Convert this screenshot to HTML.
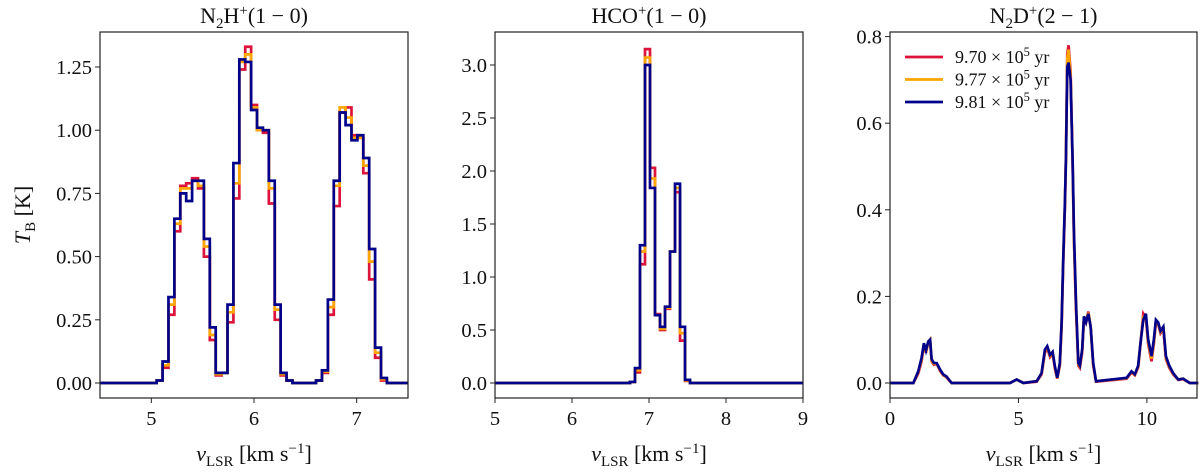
<!DOCTYPE html>
<html><head><meta charset="utf-8"><style>
html,body{margin:0;padding:0;background:#fff}
svg{display:block;font-family:"Liberation Serif",serif}
</style></head><body>
<svg id="fig" width="1200" height="473" viewBox="0 0 1200 473" xmlns="http://www.w3.org/2000/svg"></svg>
<script>
// Panel 1: N2H+ (1-0) channel values, channels start at v0 with width dv
const p1Start = 5.052, p1Width = 0.0575;
const p1Red = [0.01,0.06,0.27,0.60,0.78,0.79,0.81,0.77,0.50,0.17,0.03,0.04,0.24,0.73,1.24,1.33,1.10,1.00,0.99,0.71,0.25,0.03,0.01,0,0,0,0,0.01,0.04,0.27,0.70,1.07,1.09,0.98,0.97,0.83,0.41,0.10,0.01];
const p1Orange = [0.01,0.07,0.31,0.63,0.77,0.77,0.80,0.78,0.54,0.19,0.035,0.04,0.28,0.79,1.27,1.30,1.09,1.00,1.00,0.77,0.29,0.035,0.01,0,0,0,0,0.01,0.045,0.30,0.78,1.09,1.05,0.97,0.97,0.86,0.48,0.12,0.015];
const p1Blue = [0.01,0.085,0.34,0.65,0.75,0.72,0.80,0.80,0.57,0.22,0.04,0.04,0.31,0.87,1.28,1.27,1.08,1.01,1.00,0.80,0.31,0.04,0.01,0,0,0,0,0.01,0.05,0.33,0.80,1.07,1.02,0.96,0.98,0.89,0.53,0.14,0.02];
// Panel 2: HCO+ (1-0)
const p2Start = 6.753, p2Width = 0.065;
const p2Red = [0.01,0.10,1.12,3.15,2.03,0.65,0.50,0.70,1.24,1.80,0.40,0.02];
const p2Orange = [0.01,0.12,1.24,3.07,1.93,0.64,0.51,0.71,1.24,1.84,0.47,0.025];
const p2Blue = [0.01,0.14,1.30,3.00,1.84,0.64,0.53,0.72,1.24,1.88,0.53,0.03];
// Panel 3: N2D+ (2-1) velocity samples and values
const p3Vel = [0,0.91,1.10,1.23,1.32,1.40,1.49,1.56,1.62,1.71,1.82,1.95,2.07,2.20,2.33,2.40,4.67,4.93,5.19,5.71,5.90,6.03,6.12,6.23,6.33,6.42,6.51,6.61,6.68,6.74,6.81,6.85,6.90,6.95,7.03,7.11,7.16,7.24,7.33,7.39,7.48,7.55,7.63,7.72,7.81,7.91,8.02,9.21,9.40,9.53,9.66,9.75,9.86,9.96,10.05,10.18,10.27,10.35,10.44,10.53,10.64,10.74,10.87,11.02,11.22,11.41,11.54,11.67,12];
const p3Blue = [0,0,0.027,0.058,0.092,0.075,0.096,0.10,0.055,0.046,0.046,0.031,0.02,0.015,0.005,0,0,0.008,0,0.004,0.023,0.077,0.085,0.065,0.072,0.038,0.012,0.046,0.14,0.28,0.42,0.52,0.73,0.74,0.70,0.51,0.35,0.185,0.046,0.04,0.077,0.154,0.14,0.16,0.13,0.046,0.004,0.012,0.027,0.02,0.04,0.092,0.146,0.16,0.10,0.062,0.10,0.146,0.14,0.12,0.13,0.062,0.04,0.023,0.008,0.01,0.005,0,0];
const p3Red = [0,0,0.022,0.05,0.09,0.07,0.094,0.10,0.05,0.042,0.044,0.028,0.018,0.013,0.004,0,0,0.008,0,0.003,0.02,0.07,0.08,0.06,0.068,0.033,0.01,0.04,0.13,0.27,0.41,0.53,0.76,0.78,0.72,0.50,0.33,0.17,0.04,0.035,0.07,0.15,0.14,0.165,0.13,0.04,0.003,0.01,0.024,0.018,0.036,0.09,0.16,0.15,0.09,0.05,0.09,0.14,0.135,0.115,0.125,0.055,0.035,0.02,0.007,0.009,0.004,0,0];
const p3Orange = [0,0,0.025,0.054,0.091,0.072,0.095,0.10,0.052,0.044,0.045,0.03,0.019,0.014,0.005,0,0,0.008,0,0.004,0.022,0.074,0.083,0.063,0.07,0.036,0.011,0.043,0.135,0.275,0.415,0.525,0.75,0.77,0.71,0.505,0.34,0.18,0.043,0.038,0.074,0.152,0.14,0.162,0.13,0.043,0.004,0.011,0.026,0.019,0.038,0.091,0.153,0.155,0.095,0.056,0.095,0.143,0.138,0.118,0.128,0.058,0.038,0.022,0.008,0.01,0.005,0,0];
const p1YTicks = ["0.00","0.25","0.50","0.75","1.00","1.25"];
const p2YTicks = ["0.0","0.5","1.0","1.5","2.0","2.5","3.0"];
const p3YTicks = ["0.0","0.2","0.4","0.6","0.8"];
const p1XTicks = ["5","6","7"];
const p2XTicks = ["5","6","7","8","9"];
const p3XTicks = ["0","5","10"];
const legendLabels = ["9.70","9.77","9.81"];

const NS="http://www.w3.org/2000/svg";
const svg=document.getElementById('fig');
const COLORS=["#dc143c","#ffa500","#00008b"];
function mk(tag,attrs,parent){const e=document.createElementNS(NS,tag);for(const k in attrs)e.setAttribute(k,attrs[k]);(parent||svg).appendChild(e);return e;}

function panel(cfg){
  const g=mk('g',{});
  
  
  const sx=v=>cfg.L+(v-cfg.xmin)/(cfg.xmax-cfg.xmin)*(cfg.R-cfg.L);
  const sy=v=>cfg.y0-v*cfg.pxPerUnit;
  cfg.series.forEach((s,i)=>{
    let d='';
    if(s.step){
      d='M'+cfg.L+','+sy(0);
      d+=' L'+sx(s.start)+','+sy(0);
      s.vals.forEach((v,k)=>{const a=sx(s.start+k*s.width),b=sx(s.start+(k+1)*s.width);d+=' L'+a+','+sy(v)+' L'+b+','+sy(v);});
      d+=' L'+sx(s.start+s.vals.length*s.width)+','+sy(0)+' L'+cfg.R+','+sy(0);
    } else {
      s.vel.forEach((v,k)=>{d+=(k?' L':'M')+sx(v)+','+sy(s.vals[k]);});
    }
    const p=mk('path',{d:d,fill:'none',stroke:COLORS[i],'stroke-width':2.7,'stroke-linejoin':'miter'},g);
    
    
  });
  const fr=mk('rect',{x:cfg.L,y:cfg.T,width:cfg.R-cfg.L,height:cfg.B-cfg.T,fill:'none',stroke:'#222','stroke-width':1.2},g);
  
  
  cfg.yTicks.forEach(t=>{
    const y=sy(parseFloat(t));
    mk('line',{x1:cfg.L-5,x2:cfg.L,y1:y,y2:y,stroke:'#222','stroke-width':1},g);
    const tx=mk('text',{x:cfg.L-8,y:y+7,'text-anchor':'end','font-size':20.5,fill:'#111'},g);
    tx.textContent=t;
    
    
  });
  cfg.xTicks.forEach(t=>{
    const x=sx(parseFloat(t));
    mk('line',{x1:x,x2:x,y1:cfg.B,y2:cfg.B+5,stroke:'#222','stroke-width':1},g);
    const tx=mk('text',{x:x,y:cfg.B+27,'text-anchor':'middle','font-size':20.5,fill:'#111'},g);
    tx.textContent=t;
    
    
  });
  const xl=mk('text',{x:(cfg.L+cfg.R)/2,y:461,'text-anchor':'middle','font-size':22,fill:'#111'},g);
  xl.innerHTML='<tspan font-style="italic">v</tspan><tspan font-size="15" dy="5">LSR</tspan><tspan dy="-5"> [km s</tspan><tspan font-size="15" dy="-8">−1</tspan><tspan dy="8">]</tspan>';
  
  
  const tt=mk('text',{x:(cfg.L+cfg.R)/2,y:23,'text-anchor':'middle','font-size':22,fill:'#111'},g);
  tt.innerHTML=cfg.title;
  
  
  return g;
}

panel({name:'n2hp-panel',L:100,R:408,T:32,B:398,xmin:4.5,xmax:7.5,y0:383,pxPerUnit:252.8,
  yTicks:p1YTicks,xTicks:p1XTicks,
  title:'N<tspan font-size="15" dy="5">2</tspan><tspan dy="-5">H</tspan><tspan font-size="15" dy="-8">+</tspan><tspan dy="8">(1 − 0)</tspan>',
  series:[{step:1,start:p1Start,width:p1Width,vals:p1Red},{step:1,start:p1Start,width:p1Width,vals:p1Orange},{step:1,start:p1Start,width:p1Width,vals:p1Blue}]});
panel({name:'hcop-panel',L:495,R:803,T:32,B:398,xmin:5,xmax:9,y0:383,pxPerUnit:106,
  yTicks:p2YTicks,xTicks:p2XTicks,
  title:'HCO<tspan font-size="15" dy="-8">+</tspan><tspan dy="8">(1 − 0)</tspan>',
  series:[{step:1,start:p2Start,width:p2Width,vals:p2Red},{step:1,start:p2Start,width:p2Width,vals:p2Orange},{step:1,start:p2Start,width:p2Width,vals:p2Blue}]});
panel({name:'n2dp-panel',L:890,R:1197,T:32,B:398,xmin:0,xmax:11.95,y0:383,pxPerUnit:433,
  yTicks:p3YTicks,xTicks:p3XTicks,
  title:'N<tspan font-size="15" dy="5">2</tspan><tspan dy="-5">D</tspan><tspan font-size="15" dy="-8">+</tspan><tspan dy="8">(2 − 1)</tspan>',
  series:[{vel:p3Vel,vals:p3Red},{vel:p3Vel,vals:p3Orange},{vel:p3Vel,vals:p3Blue}]});

const yt=mk('text',{x:0,y:0,'text-anchor':'middle','font-size':22,fill:'#111',transform:'translate(30,215) rotate(-90)'});
yt.innerHTML='<tspan font-style="italic">T</tspan><tspan font-size="15" dy="5">B</tspan><tspan dy="-5"> [K]</tspan>';



const lg=mk('g',{});


legendLabels.forEach((lab,i)=>{
  const y=57+i*22.5;
  const ln=mk('line',{x1:905,x2:943,y1:y,y2:y,stroke:COLORS[i],'stroke-width':2.7},lg);
  
  
  const t=mk('text',{x:955,y:y+6,'font-size':18,fill:'#111'},lg);
  t.innerHTML=lab+' × 10<tspan font-size="12.5" dy="-7">5</tspan><tspan dy="7"> yr</tspan>';
  
  
});
</script>
</body></html>
